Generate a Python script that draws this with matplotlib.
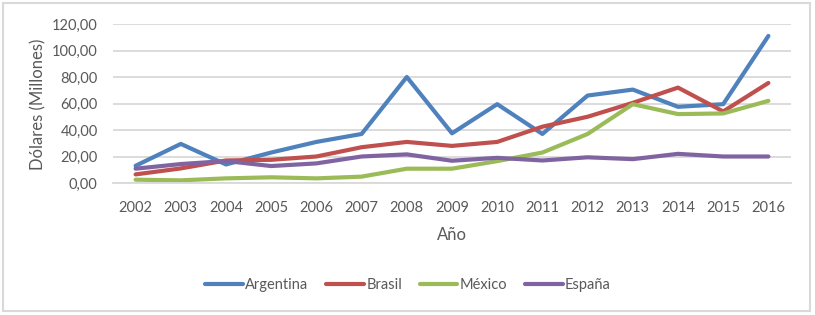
import numpy as np
import matplotlib.pyplot as plt
from matplotlib.patches import Rectangle

years = ['2002', '2003', '2004', '2005', '2006', '2007', '2008', '2009',
         '2010', '2011', '2012', '2013', '2014', '2015', '2016']
argentina = [13, 29.5, 14, 23, 31, 37, 80, 37.5, 59.5, 37, 66, 70.5, 57.5, 59.5, 111]
brasil = [6.5, 11, 17, 17.5, 20, 27, 31, 28, 31, 42.5, 50, 60.5, 72, 54, 75.5]
mexico = [2.5, 2, 3.5, 4.3, 3.5, 4.8, 10.8, 10.8, 16.5, 23, 37, 59.5, 52, 52.5, 62]
espana = [10.8, 14.3, 16.6, 12.8, 14.8, 20, 21.6, 16.8, 19, 17, 19.4, 18, 22, 20, 20]

series = [('Argentina', argentina, '#4f81bd'),
          ('Brasil', brasil, '#c0504d'),
          ('México', mexico, '#9bbb59'),
          ('España', espana, '#8064a2')]

plt.rcParams['font.family'] = ['Lato', 'DejaVu Sans']
txt = '#595959'

fig = plt.figure(figsize=(8.15, 3.15), dpi=100)
ax = fig.add_axes([113/815, 1-183/315, 678/815, 159/315])

x = np.arange(len(years))
for name, vals, col in series:
    ax.plot(x, vals, color=col, lw=3, label=name, solid_capstyle='round', solid_joinstyle='round')

ax.set_xlim(-0.5, len(years)-0.5)
ax.set_ylim(0, 120)
ax.set_yticks(np.arange(0, 121, 20))
ax.set_yticklabels(['%d,00' % v for v in range(0, 121, 20)])
ax.set_xticks(x)
ax.set_xticklabels(years)
ax.yaxis.grid(True, color='#d9d9d9', lw=1.3)
ax.set_axisbelow(True)
for s in ['top', 'right', 'left']:
    ax.spines[s].set_visible(False)
ax.spines['bottom'].set_color('#d9d9d9')
ax.spines['bottom'].set_linewidth(1.3)
ax.tick_params(length=0, labelsize=10.5, labelcolor=txt)
ax.tick_params(axis='y', pad=11)
ax.tick_params(axis='x', pad=13)

fig.text(38/815, 1-104/315, 'Dólares (Millones)', rotation=90, ha='center', va='center',
         fontsize=12, color=txt)
fig.text(452/815, 1-235/315, 'Año', ha='center', va='center', fontsize=12, color=txt)

ax.legend(loc='center', bbox_to_anchor=(408/815, 1-285/315), bbox_transform=fig.transFigure,
          ncol=4, frameon=False, fontsize=10.5, labelcolor=txt, handlelength=2.6,
          handletextpad=0.15, columnspacing=1.2)

fig.patches.append(Rectangle((3/815, 1-311/315), 807/815, 308/315, transform=fig.transFigure,
                             fill=False, ec='#d9d9d9', lw=1.5))

fig.savefig('out.png', dpi=100)
